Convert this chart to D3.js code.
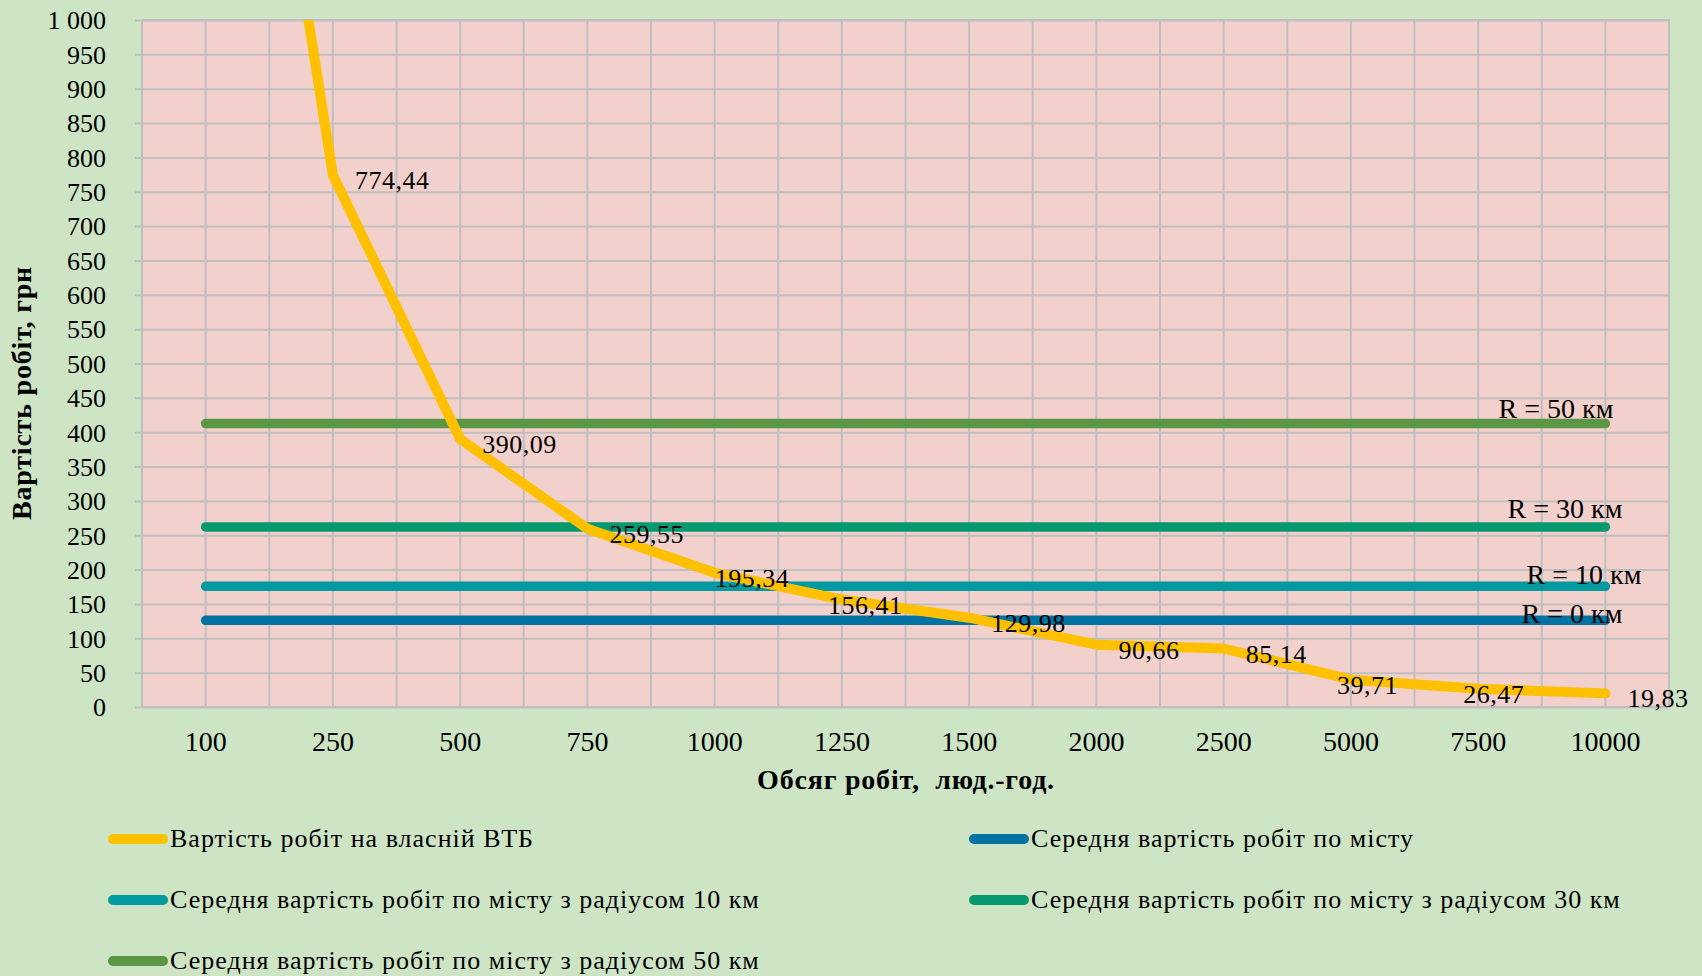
<!DOCTYPE html>
<html>
<head>
<meta charset="utf-8">
<script src="https://cdn.jsdelivr.net/npm/d3@7"></script>
<style>
    body { margin: 0; background: #cde4c5; }
    svg { display: block; }
    text { font-family: "Liberation Serif", "Times New Roman", serif; fill: #000; }
</style>
</head>
<body>
<div class="chart"></div>
<script>
// categories on x axis (обсяг робіт)
var volumes = ["100", "250", "500", "750", "1000", "1250", "1500", "2000", "2500", "5000", "7500", "10000"];
// own equipment cost, first value is above the chart top
var ownCost = [1950, 774.44, 390.09, 259.55, 195.34, 156.41, 129.98, 90.66, 85.14, 39.71, 26.47, 19.83];
// average city costs for the radiuses
var city0 = [126.1, 126.1, 126.1, 126.1, 126.1, 126.1, 126.1, 126.1, 126.1, 126.1, 126.1, 126.1];
var city10 = [175.6, 175.6, 175.6, 175.6, 175.6, 175.6, 175.6, 175.6, 175.6, 175.6, 175.6, 175.6];
var city30 = [262.1, 262.1, 262.1, 262.1, 262.1, 262.1, 262.1, 262.1, 262.1, 262.1, 262.1, 262.1];
var city50 = [412.5, 412.5, 412.5, 412.5, 412.5, 412.5, 412.5, 412.5, 412.5, 412.5, 412.5, 412.5];
var yTicks = [0, 50, 100, 150, 200, 250, 300, 350, 400, 450, 500, 550, 600, 650, 700, 750, 800, 850, 900, 950, 1000];
var legendNames = [
    "Вартість робіт на власній ВТБ",
    "Середня вартість робіт по місту",
    "Середня вартість робіт по місту з радіусом 10 км",
    "Середня вартість робіт по місту з радіусом 30 км",
    "Середня вартість робіт по місту з радіусом 50 км"
];
var radiusLabels = ["R = 0 км", "R = 10 км", "R = 30 км", "R = 50 км"];

function drawChart()
{
    var W = 1702, H = 976;
    var left = 142, right = 1669, top = 20, bottom = 707;
    var gridColor = "#bfbfbf";

    var colors = ["#ffc000", "#0073a3", "#009aa0", "#06996f", "#5b9645"];

    var svg = d3.select(".chart")
                .append("svg")
                .attr("width", W)
                .attr("height", H);

    svg.append("rect")
        .attr("width", W)
        .attr("height", H)
        .attr("fill", "#cde4c5");

    var xScale = d3.scaleBand()
        .domain(volumes)
        .range([left, right])
        .padding(0);
    var yScale = d3.scaleLinear()
        .domain([0, 1000])
        .range([bottom, top]);
    var bw = xScale.bandwidth();
    function cx(c) { return xScale(c) + bw / 2; }

    // plot area
    svg.append("rect")
        .attr("x", left)
        .attr("y", top)
        .attr("width", right - left)
        .attr("height", bottom - top)
        .attr("fill", "#f2d0cb");

    // horizontal grid + ticks
    var yAxis = d3.axisLeft(yScale)
        .tickValues(yTicks)
        .tickSize(-(right - left))
        .tickPadding(36)
        .tickFormat(function(d) { return d3.format(",")(d).replace(",", " "); });
    var gy = svg.append("g")
        .attr("transform", "translate(" + left + ",0)")
        .call(yAxis);
    gy.select(".domain").remove();
    gy.selectAll("line")
        .attr("x1", -7)
        .attr("stroke", gridColor)
        .attr("stroke-width", 2);
    gy.selectAll("text")
        .attr("font-family", "Liberation Serif")
        .attr("font-size", 26)
        .attr("x", -36)
        .attr("dy", "0.34em");

    // vertical grid: category edges and centres
    var vx = [];
    volumes.forEach(function(c) { vx.push(xScale(c)); vx.push(cx(c)); });
    vx.push(right);
    svg.selectAll(".vgrid")
        .data(vx)
        .enter()
        .append("line")
        .attr("class", "vgrid")
        .attr("x1", function(d) { return d; })
        .attr("x2", function(d) { return d; })
        .attr("y1", top)
        .attr("y2", bottom)
        .attr("stroke", gridColor)
        .attr("stroke-width", 2);

    svg.append("rect")
        .attr("x", left)
        .attr("y", top)
        .attr("width", right - left)
        .attr("height", bottom - top)
        .attr("fill", "none")
        .attr("stroke", gridColor)
        .attr("stroke-width", 2);

    // x axis labels
    svg.selectAll(".xlab")
        .data(volumes)
        .enter()
        .append("text")
        .attr("class", "xlab")
        .attr("x", function(d) { return cx(d); })
        .attr("y", 751)
        .attr("text-anchor", "middle")
        .attr("font-size", 28)
        .text(function(d) { return d; });

    // axis titles
    svg.append("text")
        .attr("x", 906)
        .attr("y", 789)
        .attr("text-anchor", "middle")
        .attr("font-size", 28)
        .attr("letter-spacing", 0.8)
        .attr("font-weight", "bold")
        .attr("xml:space", "preserve")
        .text("Обсяг робіт,  люд.-год.");

    svg.append("text")
        .attr("transform", "translate(31,393) rotate(-90)")
        .attr("text-anchor", "middle")
        .attr("font-size", 28)
        .attr("letter-spacing", 0.8)
        .attr("font-weight", "bold")
        .text("Вартість робіт, грн");

    svg.append("clipPath")
        .attr("id", "plotclip")
        .append("rect")
        .attr("x", left)
        .attr("y", top)
        .attr("width", right - left)
        .attr("height", bottom - top);

    var line = d3.line()
        .x(function(d, i) { return cx(volumes[i]); })
        .y(function(d) { return yScale(d); });

    // city averages first, own cost on top
    var flat = [city0, city10, city30, city50];
    for (var s = 0; s < flat.length; s++) {
        svg.append("path")
            .datum(flat[s])
            .attr("d", line)
            .attr("fill", "none")
            .attr("stroke", colors[s + 1])
            .attr("stroke-width", 9.5)
            .attr("stroke-linecap", "round");
    }

    svg.append("path")
        .datum(ownCost)
        .attr("d", line)
        .attr("clip-path", "url(#plotclip)")
        .attr("fill", "none")
        .attr("stroke", colors[0])
        .attr("stroke-width", 10)
        .attr("stroke-linecap", "round")
        .attr("stroke-linejoin", "round");

    // data labels of the own cost line (some are moved left like in the original)
    var labelDx = [0, 22, 22, 22, 0, -14, 22, 22, 22, -14, -15, 22];
    var fmt = function(v) { return d3.format(".2f")(v).replace(".", ","); };
    svg.selectAll(".vlab")
        .data(ownCost)
        .enter()
        .filter(function(d) { return d <= 1000; })
        .append("text")
        .attr("class", "vlab")
        .attr("x", function(d) { var i = ownCost.indexOf(d); return cx(volumes[i]) + labelDx[i]; })
        .attr("y", function(d) { return yScale(d) + 5; })
        .attr("dy", "0.35em")
        .attr("font-size", 26)
        .attr("letter-spacing", 0.5)
        .text(fmt);

    // R labels at the end of the flat lines
    var rDx = [17, 36, 17, 8];
    var rDy = [3, -2, -9, -6];
    var last = volumes[volumes.length - 1];
    for (var s = 0; s < flat.length; s++) {
        svg.append("text")
            .attr("x", cx(last) + rDx[s])
            .attr("y", yScale(flat[s][flat[s].length - 1]) + rDy[s])
            .attr("text-anchor", "end")
            .attr("font-size", 28)
            .text(radiusLabels[s]);
    }

    // legend: two columns
    var legendOrder = [0, 1, 2, 3, 4];
    var colX = [113, 974];
    legendOrder.forEach(function(k, i) {
        var gx = colX[i % 2];
        var gyy = 839 + Math.floor(i / 2) * 61;
        svg.append("line")
            .attr("x1", gx)
            .attr("x2", gx + 50)
            .attr("y1", gyy)
            .attr("y2", gyy)
            .attr("stroke", colors[k])
            .attr("stroke-width", 10)
            .attr("stroke-linecap", "round");
        svg.append("text")
            .attr("x", gx + 57)
            .attr("y", gyy + 8)
            .attr("font-size", 26)
            .attr("letter-spacing", 1)
            .text(legendNames[k]);
    });
}
drawChart();
</script>
</body>
</html>
